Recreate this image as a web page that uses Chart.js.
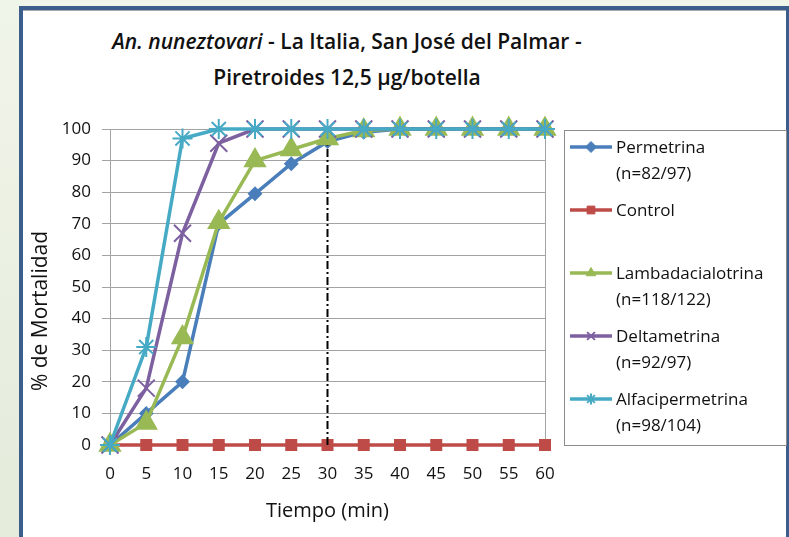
<!DOCTYPE html>
<html lang="es">
<head>
  <meta charset="UTF-8" />
  <title>An. nuneztovari - Piretroides</title>
  <script src="https://cdn.jsdelivr.net/npm/chart.js"></script>
  <style>
    body { margin: 0; width: 789px; height: 537px; overflow: hidden; background: linear-gradient(#f0f5e9, #e4ebdb); font-family: "Open Sans", sans-serif; }
    #panel { position: absolute; left: 19px; top: 6px; width: 770px; height: 540px; box-sizing: border-box; background: white;
             border-left: 4px solid #3b5e8c; border-top: 4px solid #3b5e8c; border-right: 3px solid #3b5e8c; box-shadow: inset 0 1px 0 #a8a8a8; }
    #titulo { position: absolute; left: 0; top: 23px; width: 694px; text-align: center; font-size: 21px; font-weight: 600; line-height: 36px; color: #111; }
    canvas { position: absolute; left: 0; top: 0; }
  </style>
</head>
<body>
  <div id="panel"></div>
  <div id="titulo"><i>An. nuneztovari</i> - La Italia, San José del Palmar -<br/>Piretroides 12,5 µg/botella</div>
  <canvas id="grafico" width="789" height="537"></canvas>

  <script>
    const tiempo = [0, 5, 10, 15, 20, 25, 30, 35, 40, 45, 50, 55, 60];
    const permetrina = [0, 10, 20, 70, 79.5, 89, 96, 99, 100, 100, 100, 100, 100];
    const control = [0, 0, 0, 0, 0, 0, 0, 0, 0, 0, 0, 0, 0];
    const lambda = [0, 7, 34, 70.5, 90, 93.5, 97, 99.5, 100, 100, 100, 100, 100];
    const delta = [0, 18, 67, 95.5, 100, 100, 100, 100, 100, 100, 100, 100, 100];
    const alfa = [0, 31, 97, 100, 100, 100, 100, 100, 100, 100, 100, 100, 100];
    const corte = 30;   // linea vertical punteada (min)

    const nombres = ['Permetrina', 'Control', 'Lambadacialotrina', 'Deltametrina', 'Alfacipermetrina'];
    const muestras = ['(n=82/97)', '', '(n=118/122)', '(n=92/97)', '(n=98/104)'];
    const tituloY = '% de Mortalidad';

    const pts = arr => arr.map((v, i) => ({ x: tiempo[i], y: v }));
    const fuente = { family: '"Open Sans", sans-serif', size: 17 };
    const fuenteTitulo = { family: '"Open Sans", sans-serif', size: 20 };
    const gris = '#a3a3a3';

    const series = [
      { label: nombres[0], data: pts(permetrina), borderColor: '#4a7ebb', backgroundColor: '#4a7ebb', pointStyle: 'rectRot', pointRadius: 5, order: 5 },
      { label: nombres[1], data: pts(control), borderColor: '#be4b48', backgroundColor: '#be4b48', pointStyle: 'rect', pointRadius: 6, order: 4 },
      { label: '', data: [{ x: corte, y: 0 }, { x: corte, y: 100 }], borderColor: '#000', borderWidth: 2, borderDash: [8, 3, 2, 3], pointRadius: 0, order: 3.5 },
      { label: nombres[2], data: pts(lambda), borderColor: '#98b954', backgroundColor: '#98b954', pointStyle: 'triangle', pointRadius: 10, order: 3 },
      { label: nombres[3], data: pts(delta), borderColor: '#7d60a0', backgroundColor: '#7d60a0', pointStyle: 'crossRot', pointRadius: 12, pointBorderWidth: 2, order: 2 },
      { label: nombres[4], data: pts(alfa), borderColor: '#46aac5', backgroundColor: '#46aac5', pointStyle: 'star', pointRadius: 10, pointBorderWidth: 2, order: 1 }
    ];
    series.forEach(s => { s.borderWidth = s.borderWidth || 3.5; s.tension = 0; s.clip = false; });

    // leyenda a la derecha y titulo vertical del eje Y
    const leyenda = {
      id: 'leyenda',
      afterDraw(chart) {
        const ctx = chart.ctx;
        const x0 = 564, y0 = 130, x1 = 786, y1 = 445;
        ctx.save();
        ctx.strokeStyle = '#8c8c8c';
        ctx.lineWidth = 1;
        ctx.strokeRect(x0 + 0.5, y0 + 0.5, x1 - x0, y1 - y0);
        const sets = chart.data.datasets.filter(d => d.label !== '');
        sets.forEach((d, i) => {
          const y = y0 + 17 + i * 63;
          ctx.strokeStyle = d.borderColor;
          ctx.lineWidth = 3.5;
          ctx.beginPath();
          ctx.moveTo(570, y);
          ctx.lineTo(612, y);
          ctx.stroke();
          if (Chart.helpers && Chart.helpers.drawPoint) {
            ctx.fillStyle = d.backgroundColor;
            ctx.lineWidth = d.pointBorderWidth || 1;
            Chart.helpers.drawPoint(ctx, { pointStyle: d.pointStyle, rotation: 0, radius: 5.5, borderWidth: 1 }, 591, y);
          }
          ctx.fillStyle = '#111';
          ctx.font = '17px "Open Sans", sans-serif';
          ctx.textBaseline = 'middle';
          ctx.textAlign = 'left';
          ctx.fillText(nombres[i], 616, y + 1);
          if (muestras[i]) ctx.fillText(muestras[i], 616, y + 27.5);
        });

        ctx.translate(41, 311);
        ctx.rotate(-Math.PI / 2);
        ctx.font = '21px "Open Sans", sans-serif';
        ctx.textAlign = 'center';
        ctx.textBaseline = 'middle';
        ctx.fillStyle = '#111';
        ctx.fillText(tituloY, 0, 0);
        ctx.restore();
      }
    };

    new Chart(document.getElementById('grafico'), {
      type: 'line',
      data: { datasets: series },
      plugins: [leyenda],
      options: {
        responsive: false,
        animation: false,
        layout: { padding: { left: 22, top: 129, right: 244, bottom: 0 } },
        plugins: { legend: { display: false }, tooltip: { enabled: false } },
        scales: {
          x: {
            type: 'linear', min: 0, max: 60,
            ticks: { stepSize: 5, color: '#111', font: fuente, padding: 13, maxRotation: 0 },
            grid: { color: c => c.tick && c.tick.value === 60 ? gris : 'rgba(0,0,0,0)', tickColor: gris, tickLength: 6 },
            border: { color: gris },
            title: { display: true, text: 'Tiempo (min)', color: '#111', font: fuenteTitulo, padding: { top: 4, bottom: 14 } },
            afterFit: s => { s.height = 92; }
          },
          y: {
            min: 0, max: 100,
            ticks: { stepSize: 10, color: '#111', font: fuente, padding: 11 },
            grid: { color: gris, tickColor: gris, tickLength: 8 },
            border: { color: gris },
            afterFit: s => { s.width = 88; }
          }
        }
      }
    });
  </script>
</body>
</html>
